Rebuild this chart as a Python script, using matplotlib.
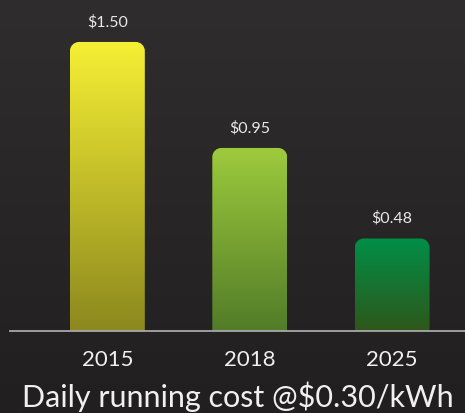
import matplotlib
matplotlib.use("Agg")
import matplotlib.pyplot as plt
import numpy as np
from matplotlib.colors import LinearSegmentedColormap
from matplotlib.path import Path
from matplotlib.patches import PathPatch

years = ["2015", "2018", "2025"]
costs = [1.50, 0.95, 0.48]
labels = ["$1.50", "$0.95", "$0.48"]
top_colors = ["#f6f034", "#9ecb3d", "#008f48"]
bottom_colors = ["#8c881e", "#527c28", "#2e571a"]

plt.rcParams["font.family"] = ["Lato", "DejaVu Sans"]

W, H = 4.65, 4.14
fig = plt.figure(figsize=(W, H), dpi=100)

# background gradient
bg = fig.add_axes([0, 0, 1, 1], zorder=0)
bg_cmap = LinearSegmentedColormap.from_list("bg", ["#2f2d2e", "#221f20"])
bg.imshow(np.linspace(0, 1, 256).reshape(-1, 1), aspect="auto", cmap=bg_cmap,
          extent=[0, 1, 0, 1])
bg.set_axis_off()

ax_pos = [10 / 465, 82 / 414, 1 - 10 / 465, 1 - 82 / 414]
ax = fig.add_axes(ax_pos, zorder=1)
ax.patch.set_alpha(0)

x = np.arange(len(years))
width = 0.526
ax.set_xlim(-0.684, 2.512)
ax.set_ylim(0, 1.723)

bars = ax.bar(x, costs, width=width, color="none", edgecolor="none")

# corner radius in pixels -> data units
px_x = ax_pos[2] * W * 100 / (ax.get_xlim()[1] - ax.get_xlim()[0])
px_y = ax_pos[3] * H * 100 / (ax.get_ylim()[1] - ax.get_ylim()[0])
r = 9
rx, ry = r / px_x, r / px_y

for rect, c_top, c_bot in zip(bars, top_colors, bottom_colors):
    x0, w, h = rect.get_x(), rect.get_width(), rect.get_height()
    x1 = x0 + w
    k = 0.5523
    verts = [
        (x0, 0), (x0, h - ry),
        (x0, h - ry + k * ry), (x0 + rx - k * rx, h), (x0 + rx, h),
        (x1 - rx, h),
        (x1 - rx + k * rx, h), (x1, h - ry + k * ry), (x1, h - ry),
        (x1, 0), (x0, 0),
    ]
    codes = [Path.MOVETO, Path.LINETO,
             Path.CURVE4, Path.CURVE4, Path.CURVE4,
             Path.LINETO,
             Path.CURVE4, Path.CURVE4, Path.CURVE4,
             Path.LINETO, Path.CLOSEPOLY]
    clip = PathPatch(Path(verts, codes), facecolor="none", edgecolor="none",
                     transform=ax.transData)
    ax.add_patch(clip)
    cmap = LinearSegmentedColormap.from_list("g", [c_top, c_bot])
    im = ax.imshow(np.linspace(0, 1, 256).reshape(-1, 1), aspect="auto",
                   cmap=cmap, extent=[x0, x1, 0, h], zorder=2)
    im.set_clip_path(clip)

ax.set_xlim(-0.684, 2.512)
ax.set_ylim(0, 1.723)

ax.bar_label(bars, labels=labels, padding=10, color="#e8e8e8", fontsize=11.5)

for s in ["top", "right", "left"]:
    ax.spines[s].set_visible(False)
ax.spines["bottom"].set_color("#a8a8a8")
ax.spines["bottom"].set_linewidth(1.3)
ax.spines["bottom"].set_zorder(3)

ax.set_yticks([])
ax.set_xticks(x)
ax.set_xticklabels(years, color="#f0f0f0", fontsize=16)
ax.tick_params(axis="x", length=0, pad=13)
ax.set_xlabel("Daily running cost @$0.30/kWh", color="#f0f0f0", fontsize=22,
              labelpad=8)

fig.savefig("out.png", dpi=100)
